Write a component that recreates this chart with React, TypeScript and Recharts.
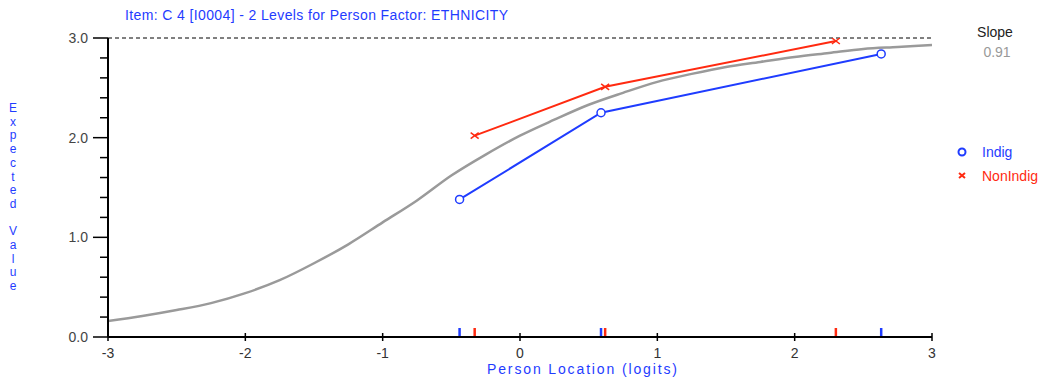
import React from 'react';
import { ComposedChart, Line, Scatter, XAxis, YAxis, ReferenceLine } from 'recharts';

// expected-value curve (grey)
const curveLocation = [-3, -2.75, -2.5, -2.25, -2, -1.75, -1.5, -1.25, -1, -0.75, -0.5, -0.25, 0, 0.25, 0.5, 0.75, 1, 1.25, 1.5, 1.75, 2, 2.25, 2.5, 2.75, 3];
const curveExpected = [0.16, 0.21, 0.27, 0.34, 0.44, 0.57, 0.74, 0.93, 1.15, 1.37, 1.62, 1.83, 2.02, 2.18, 2.33, 2.45, 2.56, 2.64, 2.71, 2.76, 2.81, 2.85, 2.89, 2.91, 2.93];

// class interval means per group
const indigLocation = [-0.44, 0.59, 2.63];
const indigExpected = [1.38, 2.25, 2.84];
const nonIndigLocation = [-0.33, 0.62, 2.3];
const nonIndigExpected = [2.02, 2.51, 2.97];

const xTicks = [-3, -2, -1, 0, 1, 2, 3];
const yTicks = [0, 0.2, 0.4, 0.6, 0.8, 1, 1.2, 1.4, 1.6, 1.8, 2, 2.2, 2.4, 2.6, 2.8, 3];
const yLabelTicks = [0, 1, 2, 3];

const title = 'Item: C 4 [I0004] - 2 Levels for Person Factor: ETHNICITY';
const xTitle = 'Person Location (logits)';
const yTitle = 'Expected Value';
const slopeLabel = 'Slope';
const slopeValue = '0.91';
const groups = ['Indig', 'NonIndig'];

const BLUE = '#1f3cff';
const RED = '#ff2a10';
const GREY = '#9a9a9a';
const FONT = '"Liberation Sans", Arial, sans-serif';

const curveData = curveLocation.map((x, i) => ({ x, y: curveExpected[i] }));
const indigData = indigLocation.map((x, i) => ({ x, y: indigExpected[i] }));
const nonIndigData = nonIndigLocation.map((x, i) => ({ x, y: nonIndigExpected[i] }));
const indigRug = indigLocation.map(x => ({ x, y: 0 }));
const nonIndigRug = nonIndigLocation.map(x => ({ x, y: 0 }));

function YTick({ x, y, payload }: any) {
  const major = yLabelTicks.includes(Math.round(payload.value * 10) / 10);
  return (
    <g>
      <line x1={x - (major ? 15 : 8)} x2={x} y1={y} y2={y} stroke="#000" strokeWidth={1.5} />
      {major && (
        <text x={x - 20} y={y + 5} textAnchor="end" fontSize={14} fontFamily={FONT} fill="#444">
          {payload.value.toFixed(1)}
        </text>
      )}
    </g>
  );
}

function XTick({ x, y, payload }: any) {
  return (
    <g>
      <line x1={x} x2={x} y1={y - 4} y2={y + 4} stroke="#000" strokeWidth={1.5} />
      <text x={x} y={y + 21} textAnchor="middle" fontSize={14} fontFamily={FONT} fill="#333">
        {payload.value}
      </text>
    </g>
  );
}

function CircleDot(props: any) {
  const { cx, cy, index } = props;
  return <circle key={`c${index}`} cx={cx} cy={cy} r={4} fill="#fff" stroke={BLUE} strokeWidth={1.5} />;
}

function CrossDot(props: any) {
  const { cx, cy, index } = props;
  return (
    <g key={`x${index}`}>
      <line x1={cx - 4} x2={cx + 4} y1={cy - 3} y2={cy + 3} stroke={RED} strokeWidth={1.5} />
      <line x1={cx - 4} x2={cx + 4} y1={cy + 3} y2={cy - 3} stroke={RED} strokeWidth={1.5} />
    </g>
  );
}

function rugShape(color: string) {
  return (props: any) => (
    <line x1={props.cx} x2={props.cx} y1={props.cy - 9} y2={props.cy - 1} stroke={color} strokeWidth={2.5} />
  );
}

export default function App() {
  return (
    <div style={{ position: 'absolute', left: 0, top: 0, width: 1053, height: 381, background: '#fff' }}>
      <ComposedChart width={1053} height={381} margin={{ top: 38, right: 121, bottom: 0, left: 0 }}>
        <XAxis
          type="number"
          dataKey="x"
          domain={[-3, 3]}
          ticks={xTicks}
          interval={0}
          tickSize={0}
          tickMargin={0}
          tickLine={false}
          tick={<XTick />}
          axisLine={{ stroke: '#000', strokeWidth: 2 }}
          height={44}
          allowDataOverflow
        />
        <YAxis
          type="number"
          dataKey="y"
          domain={[0, 3]}
          ticks={yTicks}
          interval={0}
          tickSize={0}
          tickMargin={0}
          tickLine={false}
          tick={<YTick />}
          axisLine={{ stroke: '#000', strokeWidth: 2 }}
          width={108}
          allowDataOverflow
        />
        <ReferenceLine y={3} stroke="#000" strokeDasharray="4 3" strokeWidth={1} />
        <Line data={curveData} dataKey="y" type="monotone" stroke={GREY} strokeWidth={2.5} dot={false} isAnimationActive={false} />
        <Line data={indigData} dataKey="y" type="linear" stroke={BLUE} strokeWidth={2} dot={CircleDot} isAnimationActive={false} />
        <Line data={nonIndigData} dataKey="y" type="linear" stroke={RED} strokeWidth={2} dot={CrossDot} isAnimationActive={false} />
        <Scatter data={indigRug} dataKey="y" shape={rugShape(BLUE)} isAnimationActive={false} />
        <Scatter data={nonIndigRug} dataKey="y" shape={rugShape(RED)} isAnimationActive={false} />
      </ComposedChart>
      <svg width={1053} height={381} style={{ position: 'absolute', left: 0, top: 0, pointerEvents: 'none' }}>
        <text x={125} y={20} fontSize={14} fontFamily={FONT} fill={BLUE} textLength={383} lengthAdjust="spacing">
          {title}
        </text>
        <text x={487} y={374} fontSize={14} fontFamily={FONT} fill={BLUE} textLength={190} lengthAdjust="spacing">
          {xTitle}
        </text>
        {yTitle.split('').map((ch, i) =>
          ch === ' ' ? null : (
            <text key={i} x={13} y={112 + i * 13.7} fontSize={12} fontFamily={FONT} fill={BLUE} textAnchor="middle">
              {ch}
            </text>
          )
        )}
        <text x={995} y={37} fontSize={14} fontFamily={FONT} fill="#222" textAnchor="middle">{slopeLabel}</text>
        <text x={997} y={57} fontSize={14} fontFamily={FONT} fill="#999" textAnchor="middle">{slopeValue}</text>
        <circle cx={962} cy={152} r={3.5} fill="none" stroke={BLUE} strokeWidth={2} />
        <text x={982} y={157} fontSize={14} fontFamily={FONT} fill={BLUE}>{groups[0]}</text>
        <line x1={959} x2={965} y1={173} y2={178} stroke={RED} strokeWidth={2} />
        <line x1={959} x2={965} y1={178} y2={173} stroke={RED} strokeWidth={2} />
        <text x={982} y={181} fontSize={14} fontFamily={FONT} fill={RED}>{groups[1]}</text>
      </svg>
    </div>
  );
}
